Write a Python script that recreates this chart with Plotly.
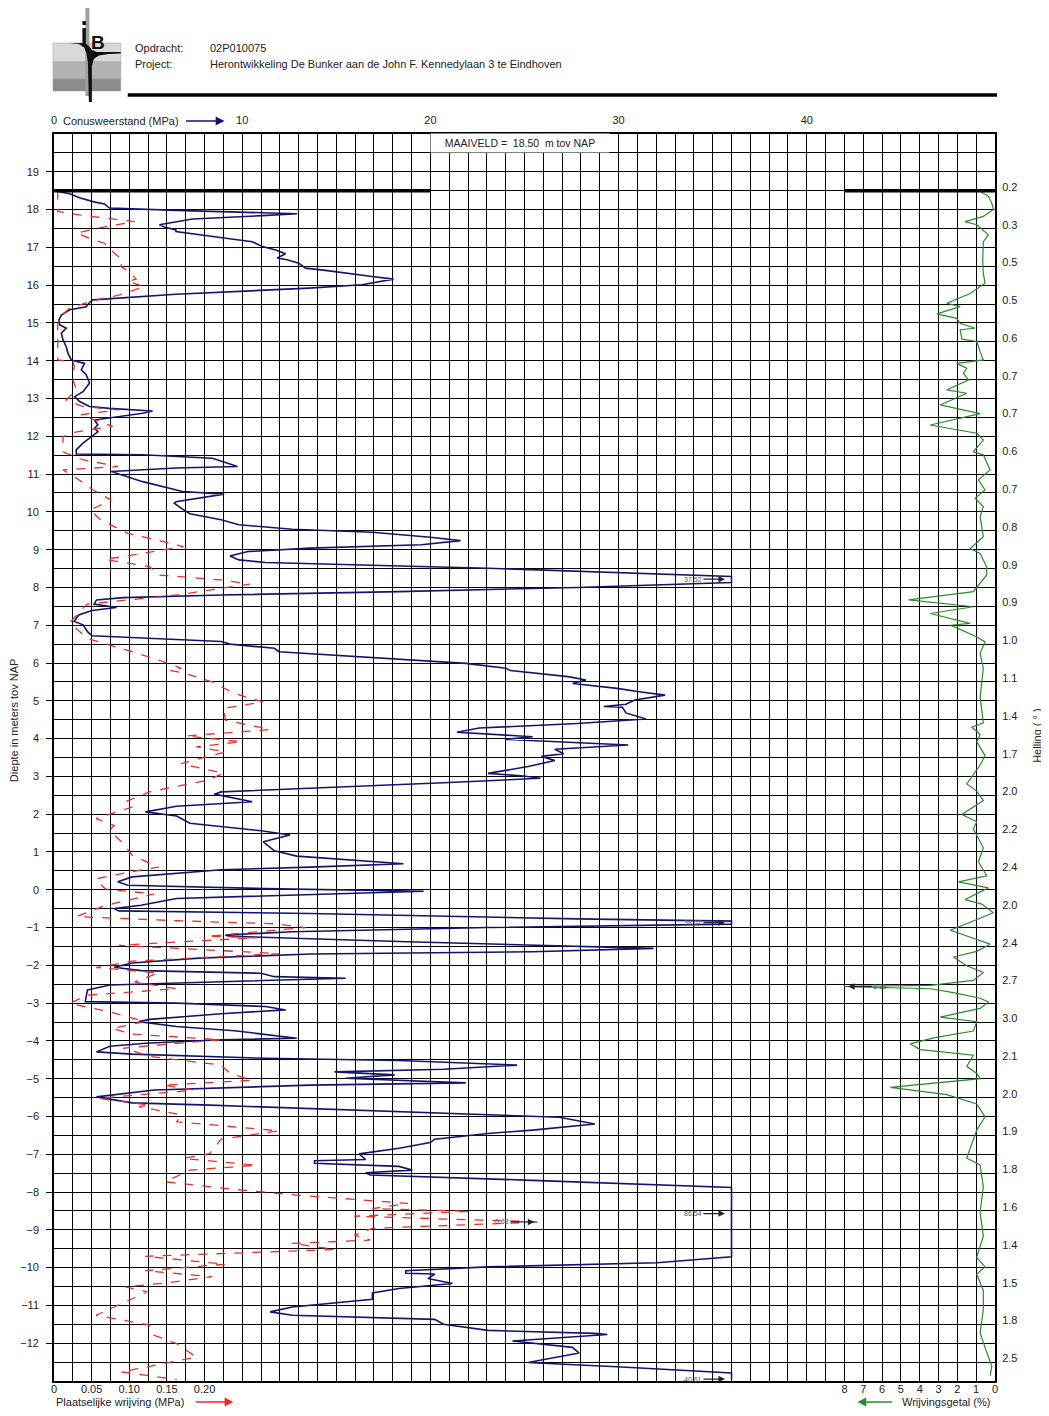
import numpy as np
import plotly.graph_objects as go

# ---- project info ----
OPDRACHT = "02P010075"
PROJECT = "Herontwikkeling De Bunker aan de John F. Kennedylaan 3 te Eindhoven"
MAAIVELD = 18.50

# clipping limits of the plot
QC_MAX = 36.0
FS_MAX = 0.648
RF_MAX = 8.0

# cone resistance qc (MPa) vs depth (m NAP)
qc_depth = [18.50, 18.42, 18.31, 18.21, 18.15, 18.04, 17.98, 17.91, 17.89, 17.84, 17.75, 17.60, 17.54, 17.46,
            17.42, 17.24, 17.15, 17.02, 16.93, 16.83, 16.72, 16.67, 16.58, 16.45, 16.39, 16.23, 16.16, 16.01,
            15.92, 15.76, 15.61, 15.54, 15.43, 15.35, 15.21, 15.08, 14.95, 14.86, 14.73, 14.55, 14.37, 14.20,
            14.02, 13.93, 13.76, 13.63, 13.41, 13.18, 13.05, 12.92, 12.79, 12.74, 12.67, 12.61, 12.50, 12.43,
            12.30, 12.21, 12.12, 11.99, 11.82, 11.64, 11.53, 11.51, 11.42, 11.20, 11.16, 11.07, 11.03, 10.80,
            10.54, 10.47, 10.27, 10.23, 10.10, 9.95, 9.79, 9.66, 9.54, 9.46, 9.33, 9.24, 9.13, 9.04, 8.95,
            8.83, 8.73, 8.66, 8.51, 8.38, 8.29, 8.22, 8.13, 8.00, 7.89, 7.80, 7.73, 7.67, 7.56, 7.47, 7.39,
            7.27, 7.10, 7.01, 6.83, 6.72, 6.57, 6.50, 6.39, 6.30, 6.17, 5.99, 5.86, 5.80, 5.64, 5.55, 5.46,
            5.33, 5.24, 5.15, 5.02, 4.91, 4.85, 4.83, 4.68, 4.52, 4.40, 4.28, 4.17, 4.05, 3.98, 3.95, 3.83,
            3.72, 3.60, 3.53, 3.42, 3.26, 3.08, 3.01, 2.95, 2.83, 2.59, 2.53, 2.33, 2.21, 2.06, 1.95, 1.76,
            1.56, 1.45, 1.27, 1.03, 0.89, 0.78, 0.69, 0.60, 0.53, 0.34, 0.21, 0.12, 0.03, -0.04, -0.15,
            -0.23, -0.41, -0.50, -0.56, -0.63, -0.77, -0.83, -0.87, -0.91, -1.00, -1.11, -1.20, -1.23, -1.37,
            -1.50, -1.55, -1.64, -1.70, -1.81, -1.94, -2.05, -2.14, -2.21, -2.30, -2.34, -2.43, -2.52, -2.65,
            -2.96, -3.00, -3.09, -3.18, -3.28, -3.43, -3.49, -3.62, -3.73, -3.93, -3.97, -4.06, -4.14, -4.29,
            -4.35, -4.46, -4.52, -4.64, -4.75, -4.82, -4.90, -4.99, -5.11, -5.17, -5.30, -5.48, -5.64, -5.70,
            -5.85, -5.96, -6.02, -6.20, -6.36, -6.45, -6.60, -6.69, -6.84, -6.99, -7.14, -7.17, -7.24, -7.32,
            -7.42, -7.49, -7.55, -7.69, -7.88, -8.10, -8.40, -8.57, -8.80, -9.20, -9.50, -9.71, -9.87, -9.98,
            -10.08, -10.15, -10.17, -10.29, -10.42, -10.55, -10.67, -10.84, -11.04, -11.17, -11.26, -11.37,
            -11.50, -11.66, -11.74, -11.77, -11.94, -12.11, -12.26, -12.40, -12.51, -12.63, -12.79, -12.95]
qc_value = [0.0, 0.83, 1.36, 2.07, 2.68, 2.95, 6.47, 11.07, 12.92, 11.07, 7.36, 5.60, 5.86, 6.48,
            6.48, 9.13, 10.54, 11.07, 11.78, 12.30, 11.86, 12.39, 13.01, 13.36, 14.42, 16.90, 18.04, 16.37,
            13.54, 6.48, 2.07, 1.89, 1.71, 0.83, 0.39, 0.26, 0.30, 0.65, 0.39, 0.48, 0.65, 0.74,
            0.92, 1.62, 1.45, 1.71, 1.89, 1.54, 1.10, 1.36, 1.89, 2.95, 5.24, 4.71, 2.95, 2.15,
            2.33, 2.15, 2.33, 1.98, 1.54, 1.18, 1.18, 4.71, 8.42, 9.75, 6.48, 3.04, 3.30, 4.71,
            6.83, 9.04, 6.48, 6.39, 6.75, 7.22, 8.88, 9.82, 12.66, 16.92, 19.99, 21.60, 19.52, 13.61, 10.30,
            9.35, 9.82, 11.24, 23.06, 30.16, 36.80, 37.52, 36.60, 27.80, 18.33, 8.88, 3.68, 2.26, 2.13, 3.32, 2.02,
            1.31, 1.07, 1.55, 1.78, 2.02, 8.88, 9.35, 11.71, 11.95, 15.97, 21.88, 24.01, 24.25, 27.32, 28.26, 27.56,
            29.92, 31.10, 32.47, 30.86, 30.39, 29.21, 30.20, 30.39, 31.45, 27.79, 22.59, 21.41, 25.43, 24.01, 25.40, 30.51,
            26.61, 27.08, 25.90, 26.61, 25.19, 23.06, 24.95, 25.85, 20.70, 8.88, 8.52, 10.53, 6.51, 4.86, 6.51, 7.22,
            11.00, 12.54, 11.12, 11.71, 12.90, 15.97, 18.57, 13.61, 8.88, 4.15, 3.39, 3.91, 11.24, 19.64, 12.42,
            6.51, 4.62, 3.20, 3.44, 13.61, 27.79, 36.60, 38.07, 36.50, 23.06, 12.66, 9.11, 9.35, 18.33,
            27.79, 31.86, 25.43, 13.61, 7.70, 4.15, 3.20, 4.62, 11.00, 11.71, 15.50, 8.88, 2.97, 1.78,
            1.66, 6.51, 11.24, 12.31, 8.88, 5.09, 4.50, 6.51, 9.59, 12.90, 8.88, 4.86, 2.97, 2.26,
            4.15, 11.24, 18.33, 24.60, 20.70, 14.90, 18.10, 15.50, 21.88, 13.61, 5.33, 2.26, 4.15, 8.30,
            17.15, 23.06, 26.85, 28.74, 25.43, 23.06, 20.23, 19.99, 18.33, 16.21, 16.56, 13.84, 13.84, 18.33,
            19.04, 16.56, 16.80, 25.43, 36.30, 45.00, 70.00, 86.54, 65.00, 50.00, 40.00, 36.20, 32.04, 23.06,
            18.69, 18.69, 20.23, 19.87, 21.17, 18.33, 16.92, 16.92, 12.66, 11.48, 12.66, 20.23,
            20.70, 23.06, 28.74, 29.40, 24.36, 27.55, 27.90, 26.38, 25.19, 30.16, 36.40, 40.61]

# local friction fs (MPa)
fs_depth = [18.50, 17.95, 17.86, 17.68, 17.55, 17.38, 17.24, 17.11, 16.85, 16.67, 16.49, 16.36, 16.16, 16.10,
            15.96, 15.74, 15.59, 15.39, 15.17, 14.99, 14.02, 13.98, 13.85, 13.49, 13.23, 12.96, 12.79, 12.70,
            12.57, 12.26, 12.12, 11.99, 11.59, 11.38, 11.20, 11.11, 10.89, 10.58, 10.31, 10.05, 9.79, 9.43,
            9.30, 9.08, 8.74, 8.55, 8.33, 8.20, 8.09, 7.80, 7.56, 7.40, 7.07, 6.65, 6.30, 6.08, 5.86, 5.81,
            5.72, 5.50, 5.19, 4.97, 4.80, 4.49, 4.24, 4.07, 3.92, 3.78, 3.65, 3.34, 3.08, 2.90, 2.59, 2.33,
            2.19, 2.05, 1.88, 1.70, 1.57, 1.22, 0.91, 0.60, 0.46, 0.29, 0.02, -0.11, -0.24, -0.42, -0.71,
            -0.82, -0.90, -1.00, -1.23, -1.27, -1.47, -1.69, -1.89, -2.06, -2.20, -2.44, -2.62, -2.79, -3.01,
            -3.23, -3.49, -3.67, -3.82, -3.97, -4.19, -4.41, -4.64, -4.86, -5.04, -5.17, -5.30, -5.52, -5.70,
            -5.74, -5.96, -6.14, -6.38, -6.60, -6.98, -7.11, -7.29, -7.42, -7.73, -7.93, -8.08, -8.30, -8.44,
            -8.51, -8.64, -8.79, -8.96, -9.14, -9.27, -9.36, -9.52, -9.70, -9.91, -10.08, -10.24, -10.40,
            -10.51, -10.64, -11.26, -11.52, -11.79, -12.01, -12.37, -12.76, -12.96]
fs_value = [0.005, 0.005, 0.034, 0.107, 0.069, 0.030, 0.047, 0.067, 0.080, 0.091, 0.089, 0.100, 0.109, 0.098,
            0.120, 0.087, 0.052, 0.021, 0.008, 0.005, 0.005, 0.025, 0.027, 0.025, 0.030, 0.016, 0.038, 0.085,
            0.036, 0.078, 0.030, 0.012, 0.012, 0.038, 0.085, 0.012, 0.030, 0.052, 0.076, 0.048, 0.062, 0.098,
            0.127, 0.172, 0.068, 0.127, 0.139, 0.222, 0.260, 0.163, 0.044, 0.036, 0.021, 0.044, 0.104, 0.139, 0.169, 0.154,
            0.175, 0.210, 0.240, 0.278, 0.225, 0.228, 0.287, 0.175, 0.249, 0.189, 0.228, 0.169, 0.225, 0.204, 0.127, 0.095,
            0.104, 0.083, 0.056, 0.080, 0.074, 0.092, 0.104, 0.139, 0.098, 0.056, 0.068, 0.133, 0.104, 0.068, 0.030,
            0.163, 0.293, 0.334, 0.204, 0.269, 0.086, 0.299, 0.104, 0.056, 0.139, 0.107, 0.163, 0.044, 0.021,
            0.074, 0.121, 0.077, 0.104, 0.222, 0.092, 0.127, 0.222, 0.234, 0.263, 0.145, 0.186, 0.059, 0.127,
            0.113, 0.169, 0.163, 0.299, 0.222, 0.207, 0.172, 0.269, 0.180, 0.148, 0.240, 0.322, 0.470, 0.423,
            0.553, 0.399, 0.680, 0.423, 0.399, 0.420, 0.316, 0.373, 0.121, 0.228, 0.121, 0.210, 0.151,
            0.095, 0.124, 0.056, 0.127, 0.133, 0.163, 0.189, 0.089, 0.163]

# friction ratio Rf (%)
rf_depth = [18.48, 18.35, 18.17, 18.00, 17.82, 17.68, 17.60, 17.33, 17.15, 16.67, 16.31, 16.05, 15.78, 15.52,
            15.43, 15.24, 15.12, 14.99, 14.86, 14.82, 14.57, 14.51, 14.24, 14.02, 13.93, 13.80, 13.67, 13.49,
            13.23, 13.14, 12.83, 12.60, 12.30, 12.08, 11.90, 11.59, 11.51, 11.11, 10.85, 10.58, 10.36, 10.14,
            9.87, 9.34, 9.03, 8.90, 8.54, 8.33, 7.89, 7.67, 7.49, 7.31, 7.05, 7.00, 6.91, 6.69, 6.56, 6.25,
            5.86, 5.11, 4.42, 4.30, 4.11, 3.92, 3.55, 3.30, 2.80, 2.61, 2.36, 1.99, 1.80, 1.61, 1.11, 0.74,
            0.37, 0.21, 0.05, -0.26, -0.38, -0.61, -0.86, -1.07, -1.13, -1.44, -1.63, -1.78, -2.01, -2.19,
            -2.40, -2.53, -2.56, -2.62, -2.72, -2.87, -2.97, -3.14, -3.37, -3.49, -3.74, -3.92, -4.08, -4.23,
            -4.38, -4.67, -4.86, -5.00, -5.23, -5.42, -5.67, -6.01, -6.36, -7.10, -7.29, -7.85, -8.54, -9.17,
            -9.73, -9.98, -10.17, -10.61, -11.11, -11.73, -12.11, -12.61, -12.86]
rf_value = [0.79, 0.35, 0.17, 0.09, 0.62, 1.59, 0.97, 0.35, 0.62, 0.65, 0.62, 0.53, 1.32, 2.56,
            1.85, 3.09, 2.03, 1.85, 1.06, 1.85, 1.76, 0.97, 0.79, 0.62, 2.03, 1.50, 1.68, 1.41,
            2.56, 1.50, 2.91, 0.79, 3.44, 0.97, 0.62, 1.15, 0.62, 0.26, 0.88, 0.53, 1.06, 0.62,
            0.79, 0.62, 1.32, 0.79, 0.44, 0.44, 1.15, 4.59, 1.15, 3.44, 1.32, 2.38, 1.94, 0.97, 0.53, 0.79,
            0.62, 0.79, 0.62, 1.23, 0.79, 0.97, 0.53, 0.79, 1.50, 0.97, 0.62, 1.76, 0.97, 1.15, 0.62, 0.88,
            0.44, 1.94, 0.35, 1.59, 0.70, 0.09, 1.32, 2.38, 2.03, 0.26, 0.97, 2.21, 1.50, 0.62,
            1.15, 3.44, 8.15, 3.44, 2.21, 0.79, 0.35, 0.79, 2.91, 0.97, 1.15, 3.27, 4.50, 3.97,
            1.15, 1.50, 0.97, 0.79, 5.56, 2.56, 0.97, 0.53, 0.97, 1.50, 0.79, 0.62, 0.79, 0.62,
            0.97, 0.53, 0.97, 0.62, 0.62, 0.79, 0.53, 0.17, 0.26]

# inclination (Helling, degrees) per metre below maaiveld
helling = ["0.2", "0.3", "0.5", "0.5", "0.6", "0.7", "0.7", "0.6", "0.7", "0.8", "0.9", "0.9", "1.0", "1.1",
           "1.4", "1.7", "2.0", "2.2", "2.4", "2.0", "2.4", "2.7", "3.0", "2.1", "2.0", "1.9", "1.8", "1.6",
           "1.4", "1.5", "1.8", "2.5"]
helling_pos = [MAAIVELD + 0.1 - k for k in range(len(helling))]

depth_ticks = list(range(-12, 20))
qc_ticks = [0, 10, 20, 30, 40]
fs_ticks = [0, 0.05, 0.10, 0.15, 0.20]
fs_ticktext = ["0", "0.05", "0.10", "0.15", "0.20"]
rf_ticks = list(range(0, 9))

FONT = "Liberation Sans, Arial, sans-serif"
NAVY = "#14146e"
RED = "#e8302a"
GREEN = "#2b8a2b"

# page geometry (pixels) of the plot area; the page body has an 8px margin
PAGE_W, PAGE_H, BODY = 1049, 1416, 8
PL, PR, PT, PB = 51, 995, 134, 1381
W, H = PAGE_W - BODY, PAGE_H - BODY


def fx(px):
    return (px - PL) / (PR - PL)


def fy(py):
    return (PB - py) / (PB - PT)


fig = go.Figure()

fig.add_trace(go.Scatter(x=np.minimum(qc_value, QC_MAX), y=qc_depth, mode="lines",
                         line=dict(color=NAVY, width=1.6), xaxis="x", yaxis="y",
                         showlegend=False, hoverinfo="skip"))
fig.add_trace(go.Scatter(x=np.minimum(fs_value, FS_MAX), y=fs_depth, mode="lines",
                         line=dict(color=RED, width=1.3, dash="dash"), xaxis="x2", yaxis="y",
                         showlegend=False, hoverinfo="skip"))
fig.add_trace(go.Scatter(x=np.minimum(rf_value, RF_MAX), y=rf_depth, mode="lines",
                         line=dict(color=GREEN, width=1.2), xaxis="x3", yaxis="y",
                         showlegend=False, hoverinfo="skip"))
# dummy trace so the right (Helling) axis is drawn
fig.add_trace(go.Scatter(x=[0], y=[0], mode="markers", marker=dict(opacity=0), xaxis="x", yaxis="y2",
                         showlegend=False, hoverinfo="skip"))

annotations = []


def clip_labels(depths, values, vmax, xref, xpos, ax):
    # label the maximum of every run that runs off the plot
    run = []
    for d, v in list(zip(depths, values)) + [(None, -1)]:
        if v > vmax:
            run.append((d, v))
        elif run:
            d_max, v_max = max(run, key=lambda t: t[1])
            annotations.append(dict(x=xpos, y=d_max, xref=xref, yref="y", text="%.2f" % v_max,
                                    showarrow=True, arrowhead=2, arrowsize=1, arrowwidth=1.3,
                                    arrowcolor="#222", ax=ax, ay=0,
                                    font=dict(size=7, color="#555", family=FONT)))
            run = []


clip_labels(qc_depth, qc_value, QC_MAX, "x", QC_MAX - 0.35, -32)
clip_labels(fs_depth, fs_value, FS_MAX, "x2", FS_MAX - 0.01, -32)
clip_labels(rf_depth, rf_value, RF_MAX, "x3", RF_MAX - 0.2, 32)

# maaiveld label in top row
annotations.append(dict(x=24.75, y=19.75, xref="x", yref="y", showarrow=False,
                        text="MAAIVELD =  %.2f  m tov NAP" % MAAIVELD, bgcolor="white",
                        width=176, height=16, font=dict(size=10.5, color="#222", family=FONT)))

# header and axis captions
captions = [
    dict(x=fx(130), y=fy(48), text="Opdracht:", xanchor="left"),
    dict(x=fx(205), y=fy(48), text=OPDRACHT, xanchor="left"),
    dict(x=fx(130), y=fy(64), text="Project:", xanchor="left"),
    dict(x=fx(205), y=fy(64), text=PROJECT, xanchor="left"),
    dict(x=fx(58), y=fy(121), text="Conusweerstand (MPa)", xanchor="left"),
    dict(x=fx(51), y=fy(1402), text="Plaatselijke wrijving (MPa)", xanchor="left"),
    dict(x=fx(992), y=fy(1402), text="Wrijvingsgetal (%)", xanchor="right"),
    dict(x=fx(11), y=fy(720), text="Diepte in meters tov NAP", textangle=-90, xanchor="center"),
    dict(x=fx(1037), y=fy(735), text="Helling ( ° )", textangle=-90, xanchor="center"),
]
for a in captions:
    a.update(xref="paper", yref="paper", showarrow=False, yanchor="middle",
             font=dict(size=11, color="#222", family=FONT))
annotations += captions

# legend arrows
for head, tail, col in [((222, 121), (182, 121), NAVY), ((231, 1402), (192, 1402), RED),
                        ((857, 1402), (893, 1402), GREEN)]:
    annotations.append(dict(x=fx(head[0]), y=fy(head[1]), xref="paper", yref="paper", text="",
                            showarrow=True, arrowhead=2, arrowsize=1.1, arrowwidth=1.6, arrowcolor=col,
                            ax=tail[0] - head[0], ay=0))

shapes = [
    # maaiveld lines
    dict(type="line", xref="x", yref="y", x0=0, x1=20, y0=MAAIVELD, y1=MAAIVELD,
         line=dict(color="black", width=3.5)),
    dict(type="line", xref="x3", yref="y", x0=RF_MAX, x1=0, y0=MAAIVELD, y1=MAAIVELD,
         line=dict(color="black", width=3.5)),
    # header rule
    dict(type="line", xref="paper", yref="paper", x0=fx(125), x1=fx(997), y0=fy(95), y1=fy(95),
         line=dict(color="black", width=3.5)),
]

# logo: soil layers, probe rod, pile and the letters "iB"
for y0, y1, col in [(43, 62, "#d9d9d9"), (62, 79, "#b3b3b3"), (79, 91, "#8c8c8c")]:
    shapes.append(dict(type="rect", xref="paper", yref="paper", x0=fx(50), x1=fx(118), y0=fy(y1), y1=fy(y0),
                       fillcolor=col, line=dict(color="#9a9a9a", width=0.5), layer="above"))
shapes.append(dict(type="rect", xref="paper", yref="paper", x0=fx(82.5), x1=fx(86.5), y0=fy(96), y1=fy(0),
                   fillcolor="#a0a0a0", line=dict(width=0), layer="above"))
pile = [(67, 43), (76, 44), (81, 47), (83.5, 53), (85, 62), (86, 102), (89, 102), (89, 66), (91, 59),
        (96, 55.5), (106, 54), (118, 53.5), (118, 52), (104, 52), (94, 52), (89, 50), (86, 46), (82, 43)]
path = "M " + " L ".join("%.5f,%.5f" % (fx(px), fy(py)) for px, py in pile) + " Z"
shapes.append(dict(type="path", xref="paper", yref="paper", path=path, fillcolor="#111",
                   line=dict(width=0), layer="above"))
shapes.append(dict(type="rect", xref="paper", yref="paper", x0=fx(79.5), x1=fx(83), y0=fy(47), y1=fy(28),
                   fillcolor="#111", line=dict(width=0), layer="above"))
shapes.append(dict(type="rect", xref="paper", yref="paper", x0=fx(79.5), x1=fx(83), y0=fy(25), y1=fy(21),
                   fillcolor="#111", line=dict(width=0), layer="above"))
annotations.append(dict(x=fx(95), y=fy(43), xref="paper", yref="paper", text="<b>B</b>", showarrow=False,
                        xanchor="center", yanchor="middle",
                        font=dict(size=19, color="#111", family=FONT)))

grid = dict(showgrid=True, gridcolor="black", gridwidth=1.3)
tickfont = dict(size=11, color="#222", family=FONT)

fig.update_layout(
    width=W, height=H,
    margin=dict(l=PL - BODY, r=PAGE_W - PR, t=PT - BODY, b=PAGE_H - PB, pad=0),
    paper_bgcolor="white", plot_bgcolor="white",
    font=dict(family=FONT, size=11, color="#222"),
    xaxis=dict(domain=[0, 1], range=[0, 50], side="top", anchor="y", tickmode="array", tickvals=qc_ticks,
               ticks="outside", ticklen=4, tickcolor="rgba(0,0,0,0)", tickfont=tickfont,
               minor=dict(dtick=1, tick0=0, **grid), zeroline=False,
               showline=True, mirror=True, linecolor="black", linewidth=1.6, **grid),
    xaxis2=dict(range=[0, 1.25], overlaying="x", side="bottom", anchor="y", tickmode="array",
                tickvals=fs_ticks, ticktext=fs_ticktext, showgrid=False, zeroline=False, ticks="",
                tickfont=tickfont),
    xaxis3=dict(range=[50, 0], overlaying="x", side="bottom", anchor="y", tickmode="array",
                tickvals=rf_ticks, showgrid=False, zeroline=False, ticks="", tickfont=tickfont),
    yaxis=dict(range=[-13, 20], anchor="x", tickmode="array", tickvals=depth_ticks, ticks="outside",
               ticklen=6, tickcolor="black", tickwidth=1, tickfont=tickfont, ticklabelstandoff=5,
               minor=dict(dtick=0.5, tick0=0, ticks="", **grid), zeroline=False,
               showline=True, mirror=True, linecolor="black", linewidth=1.6, **grid),
    yaxis2=dict(range=[-13, 20], overlaying="y", side="right", anchor="x", tickmode="array",
                tickvals=helling_pos, ticktext=helling, showgrid=False, zeroline=False,
                ticks="outside", ticklen=4, tickcolor="rgba(0,0,0,0)", tickfont=tickfont),
    annotations=annotations,
    shapes=shapes,
)

fig.write_html("out.html")
